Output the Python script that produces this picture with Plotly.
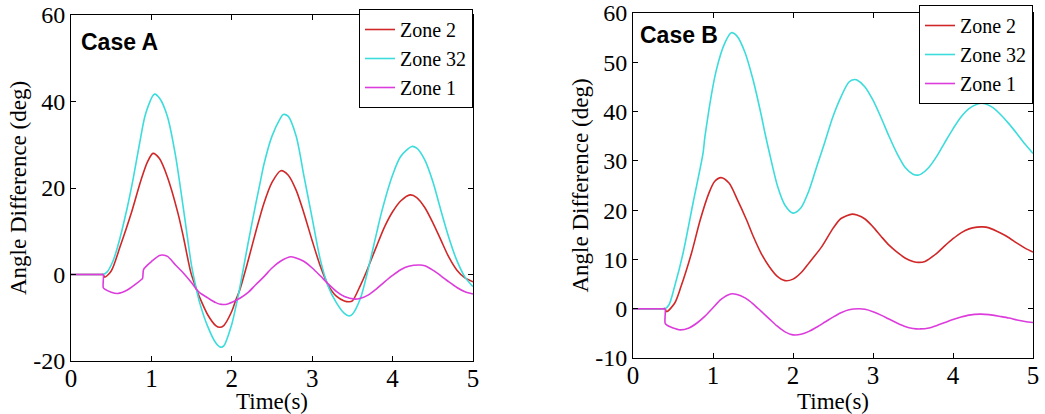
import plotly.graph_objects as go

# ---------------- Case A data ----------------
a_z32_t = [0, 0.38, 0.4, 0.45, 0.52, 0.58, 0.7, 0.77, 0.85, 0.93, 1.04, 1.1, 1.2, 1.3, 1.4, 1.5, 1.56, 1.6, 1.7, 1.8,
           1.86, 1.9, 2.0, 2.05, 2.1, 2.2, 2.3, 2.35, 2.4, 2.5, 2.6, 2.64, 2.7, 2.8, 2.9, 3.0, 3.1, 3.2, 3.3, 3.4,
           3.46, 3.5, 3.6, 3.68, 3.8, 3.86, 4.0, 4.1, 4.24, 4.3, 4.4, 4.5, 4.61, 4.7, 4.8, 4.9, 5.0]
a_z32_v = [0, 0, 0, 0.6, 3.0, 6.4, 15.5, 21.8, 30.0, 37.3, 41.7, 40.8, 36.5, 27.5, 15.0, 2.0, -3.4, -6.5, -12.0, -15.8,
           -16.8, -16.5, -11.5, -7.5, -3.0, 7.0, 16.5, 21.0, 25.5, 32.0, 36.0, 37.0, 36.6, 32.0, 22.5, 13.0, 3.5, -2.8, -6.5, -9.0,
           -9.6, -9.2, -5.5, 0.0, 9.5, 14.2, 23.0, 27.3, 29.6, 29.2, 26.5, 21.5, 14.2, 8.5, 3.2, -0.6, -2.8]

a_z2_t = [0, 0.38, 0.4, 0.42, 0.5, 0.61, 0.75, 0.87, 0.95, 1.02, 1.1, 1.2, 1.33, 1.4, 1.49, 1.56, 1.6, 1.7, 1.8, 1.85,
          1.9, 2.0, 2.05, 2.1, 2.2, 2.3, 2.4, 2.5, 2.61, 2.7, 2.8, 2.9, 3.0, 3.1, 3.2, 3.3, 3.4, 3.46, 3.5, 3.6,
          3.66, 3.8, 3.9, 4.0, 4.1, 4.22, 4.3, 4.4, 4.5, 4.6, 4.7, 4.8, 4.9, 5.0]
a_z2_v = [0, 0, 0, -0.6, 0.8, 6.4, 14.2, 21.8, 26.0, 28.0, 26.8, 22.5, 14.2, 8.5, 0.5, -3.4, -5.3, -9.3, -11.8, -12.2,
          -11.8, -8.5, -5.9, -3.5, 3.0, 10.0, 16.5, 21.3, 24.0, 23.0, 19.5, 14.0, 7.8, 2.0, -2.5, -5.0, -6.1, -6.3, -6.1, -2.5,
          0.0, 6.5, 11.0, 14.5, 17.0, 18.4, 17.8, 15.5, 12.0, 8.0, 4.0, 1.0, -0.8, -1.7]

a_z1_t = [0, 0.38, 0.4, 0.401, 0.42, 0.5, 0.58, 0.7, 0.8, 0.88, 0.89, 0.9, 0.91, 1.0, 1.1, 1.14, 1.2, 1.3, 1.4, 1.5,
          1.56, 1.6, 1.7, 1.8, 1.87, 1.95, 2.05, 2.1, 2.2, 2.3, 2.4, 2.5, 2.6, 2.73, 2.8, 2.9, 3.0, 3.1, 3.2, 3.3,
          3.4, 3.53, 3.6, 3.7, 3.8, 3.9, 4.0, 4.1, 4.2, 4.34, 4.4, 4.5, 4.6, 4.7, 4.8, 4.9, 5.0]
a_z1_v = [0, 0, 0, -3.0, -3.4, -4.1, -4.4, -3.6, -2.3, -1.1, -0.9, 1.0, 1.4, 3.0, 4.4, 4.5, 4.2, 2.2, 0.3, -1.9,
          -3.4, -4.2, -5.4, -6.5, -6.9, -6.8, -6.0, -5.5, -4.2, -2.3, -0.5, 1.5, 3.0, 4.1, 3.8, 3.0, 1.5, -0.3, -2.2, -3.9,
          -5.1, -5.7, -5.5, -4.7, -3.3, -1.7, -0.2, 1.1, 1.9, 2.2, 2.0, 1.0, -0.3, -1.7, -3.0, -4.0, -4.5]

# ---------------- Case B data ----------------
b_z32_t = [0, 0.38, 0.4, 0.45, 0.52, 0.625, 0.75, 0.875, 0.9, 1.04, 1.15, 1.23, 1.3, 1.4, 1.5, 1.6, 1.65, 1.7, 1.81,
           1.9, 2.0, 2.1, 2.2, 2.3, 2.38, 2.5, 2.6, 2.7, 2.77, 2.8, 2.9, 3.0, 3.1, 3.2, 3.3, 3.4, 3.5, 3.56, 3.6,
           3.7, 3.8, 3.9, 4.0, 4.1, 4.2, 4.3, 4.36, 4.4, 4.5, 4.6, 4.7, 4.8, 4.9, 5.0]
b_z32_v = [0, 0, 0, 0.8, 4.5, 11.2, 21.4, 31.5, 35.0, 48.3, 54.0, 56.0, 55.3, 52.0, 46.5, 39.5, 35.6, 32.0, 24.7,
           21.0, 19.4, 20.5, 24.0, 29.0, 32.9, 39.0, 43.0, 46.0, 46.5, 46.4, 45.0, 42.3, 38.8, 35.0, 31.5, 28.7, 27.3, 27.1, 27.3,
           28.7, 31.0, 33.8, 36.5, 38.9, 40.6, 41.5, 41.7, 41.6, 40.8, 39.3, 37.5, 35.5, 33.4, 31.5]

b_z2_t = [0, 0.38, 0.4, 0.42, 0.52, 0.6, 0.73, 0.84, 0.95, 1.02, 1.1, 1.2, 1.3, 1.42, 1.5, 1.6, 1.7, 1.8, 1.9, 2.0,
          2.1, 2.2, 2.36, 2.5, 2.6, 2.74, 2.8, 2.9, 3.0, 3.1, 3.2, 3.3, 3.4, 3.5, 3.57, 3.65, 3.8, 3.9, 4.0, 4.1,
          4.2, 4.3, 4.37, 4.45, 4.6, 4.7, 4.8, 4.9, 5.0]
b_z2_v = [0, 0, 0, -0.6, 1.1, 4.5, 11.2, 18.0, 23.5, 25.8, 26.6, 25.5, 22.3, 18.0, 14.8, 11.3, 8.6, 6.6, 5.7, 6.0,
          7.3, 9.3, 12.6, 16.3, 18.3, 19.2, 19.0, 18.2, 16.6, 14.7, 12.9, 11.5, 10.3, 9.6, 9.4, 9.6, 11.3, 12.8, 14.2, 15.4,
          16.2, 16.55, 16.6, 16.4, 15.3, 14.4, 13.3, 12.3, 11.5]

b_z1_t = [0, 0.38, 0.4, 0.401, 0.42, 0.5, 0.59, 0.7, 0.8, 0.9, 1.0, 1.1, 1.22, 1.3, 1.4, 1.5, 1.6, 1.7, 1.8, 1.9, 2.0,
          2.1, 2.2, 2.3, 2.4, 2.5, 2.6, 2.7, 2.82, 2.9, 3.0, 3.1, 3.2, 3.3, 3.4, 3.5, 3.59, 3.7, 3.8, 3.9, 4.0,
          4.1, 4.2, 4.34, 4.45, 4.6, 4.7, 4.8, 4.9, 5.0]
b_z1_v = [0, 0, 0, -2.9, -3.3, -3.9, -4.3, -3.9, -2.9, -1.5, 0.2, 1.9, 3.0, 2.9, 2.2, 1.0, -0.5, -2.0, -3.5, -4.7, -5.3,
          -5.2, -4.6, -3.7, -2.7, -1.7, -0.8, -0.2, 0.0, -0.1, -0.6, -1.3, -2.1, -2.9, -3.6, -4.0, -4.1, -3.9, -3.4, -2.8, -2.2,
          -1.7, -1.3, -1.1, -1.2, -1.6, -1.9, -2.3, -2.6, -2.8]

series_names = ["Zone 2", "Zone 32", "Zone 1"]
colors = ["#D02828", "#3CDCDC", "#DC3CDC"]
x_ticks = [0, 1, 2, 3, 4, 5]
a_y_ticks = [-20, 0, 20, 40, 60]
a_y_ticktext = ["-20", "0", "20", "40", "60"]
b_y_ticks = [-10, 0, 10, 20, 30, 40, 50, 60]
b_y_ticktext = ["-10", "0", "10", "20", "30", "40", "50", "60"]
panel_labels = ["Case A", "Case B"]

W, H = 1045, 414
serif = "Liberation Serif, Times New Roman, serif"

fig = go.Figure()
a_data = [(a_z2_t, a_z2_v), (a_z32_t, a_z32_v), (a_z1_t, a_z1_v)]
b_data = [(b_z2_t, b_z2_v), (b_z32_t, b_z32_v), (b_z1_t, b_z1_v)]
for (t, v), name, c in zip(a_data, series_names, colors):
    fig.add_trace(go.Scatter(x=t, y=v, name=name, mode="lines",
                             line=dict(color=c, width=1.6, shape="spline", smoothing=0.8),
                             xaxis="x", yaxis="y", legend="legend"))
for (t, v), name, c in zip(b_data, series_names, colors):
    fig.add_trace(go.Scatter(x=t, y=v, name=name, mode="lines",
                             line=dict(color=c, width=1.6, shape="spline", smoothing=0.8),
                             xaxis="x2", yaxis="y2", legend="legend2"))

def px_x(p):
    return p / W

def px_y(p):
    return 1 - p / H

axis_common = dict(showline=True, linecolor="black", linewidth=1, mirror="ticks",
                   ticks="inside", ticklen=5, tickcolor="black", showgrid=False, zeroline=False,
                   automargin=False)
x_tickfont = dict(family=serif, size=25, color="black")
y_tickfont = dict(family=serif, size=24, color="black")
title_font = dict(family=serif, size=23, color="black")
legend_font = dict(family=serif, size=20, color="black")

fig.update_layout(
    width=W, height=H, margin=dict(l=0, r=0, t=0, b=0),
    paper_bgcolor="white", plot_bgcolor="white",
    xaxis=dict(domain=[px_x(71), px_x(473)], range=[0, 5], tickvals=x_ticks, anchor="y",
               tickfont=x_tickfont, ticklabelstandoff=-5,
               title=dict(text="Time(s)", font=title_font, standoff=0), **axis_common),
    yaxis=dict(domain=[px_y(361), px_y(15)], range=[-20, 60], tickvals=a_y_ticks, ticktext=a_y_ticktext,
               anchor="x", tickfont=y_tickfont,
               title=dict(text="Angle Difference (deg)", font=title_font, standoff=0), **axis_common),
    xaxis2=dict(domain=[px_x(633), px_x(1033)], range=[0, 5], tickvals=x_ticks, anchor="y2",
                tickfont=x_tickfont, ticklabelstandoff=-5,
                title=dict(text="Time(s)", font=title_font, standoff=0), **axis_common),
    yaxis2=dict(domain=[px_y(358), px_y(13)], range=[-10, 60], tickvals=b_y_ticks, ticktext=b_y_ticktext,
                anchor="x2", tickfont=y_tickfont,
                title=dict(text="Angle Difference (deg)", font=title_font, standoff=0), **axis_common),
    legend=dict(x=px_x(473), xanchor="right", y=px_y(9), yanchor="top",
                bordercolor="black", borderwidth=1, bgcolor="white", itemwidth=30,
                font=legend_font, tracegroupgap=0),
    legend2=dict(x=px_x(1033), xanchor="right", y=px_y(5), yanchor="top",
                 bordercolor="black", borderwidth=1, bgcolor="white", itemwidth=30,
                 font=legend_font, tracegroupgap=0),
    annotations=[
        dict(text="<b>%s</b>" % panel_labels[0], x=px_x(79), y=px_y(42), xref="paper", yref="paper",
             xanchor="left", yanchor="middle", showarrow=False,
             font=dict(family="Liberation Sans, Arial, sans-serif", size=23, color="black")),
        dict(text="<b>%s</b>" % panel_labels[1], x=px_x(638), y=px_y(35), xref="paper", yref="paper",
             xanchor="left", yanchor="middle", showarrow=False,
             font=dict(family="Liberation Sans, Arial, sans-serif", size=23, color="black")),
    ],
    showlegend=True,
)

fig.write_html("out.html")
